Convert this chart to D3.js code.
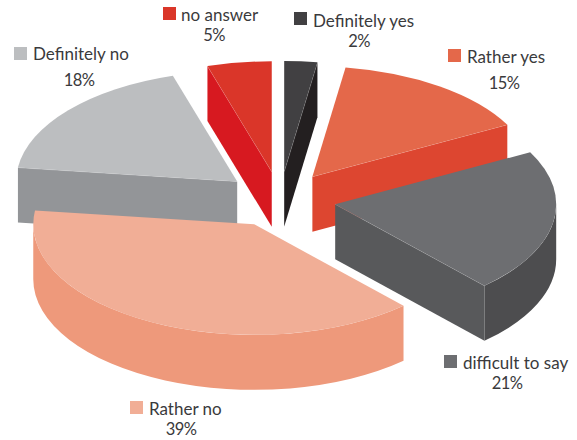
<!DOCTYPE html>
<html>
<head>
<meta charset="utf-8">
<script src="https://cdn.jsdelivr.net/npm/d3@7"></script>
<style>
  html, body { margin: 0; padding: 0; background: #fff; }
  text { font-family: Lato, sans-serif; fill: #3a3a3c; }
</style>
</head>
<body>
<div id="chart"></div>
<script>
// order is clockwise from 12 o'clock
const categories = ["Definitely yes", "Rather yes", "difficult to say", "Rather no", "Definitely no", "no answer"];
const shares = [2.4, 14.8, 21, 38.8, 18.3, 4.7];

const topColors = ["#414042", "#e4684a", "#6d6e71", "#f1ae96", "#bcbec0", "#da3629"];
const sideColors = ["#231f20", "#dd4630", "#58595b", "#ee997b", "#939598", "#d71920"];
const rimColors = ["#231f20", "#dd4630", "#4d4d4f", "#ee997b", "#939598", "#d71920"];

const width = 577;
const height = 440;
const center = { x: 280, y: 199.5 };
const rx = 221;
const ry = 110.5;
const depth = 55;
const explode = 56;

// legend square corner, text x/baseline, percent centre/baseline
const labelSpots = [
  { sx: 294, sy: 12, tx: 313, ty: 27, px: 359, py: 47 },
  { sx: 448, sy: 49, tx: 467, ty: 63, px: 504, py: 89 },
  { sx: 444, sy: 355, tx: 463, ty: 369, px: 507, py: 389 },
  { sx: 130, sy: 401, tx: 149, ty: 415, px: 181, py: 435 },
  { sx: 14, sy: 47, tx: 33, ty: 60, px: 79, py: 86 },
  { sx: 163, sy: 7, tx: 181, ty: 21, px: 214, py: 41 }
];

// painter's order, back slices first
const drawOrder = [5, 0, 1, 4, 2, 3];

const svg = d3.select("#chart")
  .append("svg")
  .attr("width", width)
  .attr("height", height);

const pie = d3.pie().sort(null).value(d => d);
const arcs = pie(shares);
const arc = d3.arc().innerRadius(0).outerRadius(rx);

// a point on the rim of the flattened circle
function rimPoint(angle) {
  return [rx * Math.sin(angle), -ry * Math.cos(angle)];
}

function rimWall(a0, a1) {
  const p0 = rimPoint(a0);
  const p1 = rimPoint(a1);
  return `M${p0[0]},${p0[1]}A${rx},${ry} 0 0 1 ${p1[0]},${p1[1]}` +
    `L${p1[0]},${p1[1] + depth}A${rx},${ry} 0 0 0 ${p0[0]},${p0[1] + depth}Z`;
}

function radialWall(a) {
  const p = rimPoint(a);
  return `M0,0L${p[0]},${p[1]}L${p[0]},${p[1] + depth}L0,${depth}Z`;
}

drawOrder.forEach(i => {
  const d = arcs[i];
  const mid = (d.startAngle + d.endAngle) / 2;
  const g = svg.append("g")
    .attr("transform", `translate(${center.x + explode * Math.sin(mid)},${center.y - explode * 0.5 * Math.cos(mid)})`);

  // rim wall only on the part that faces the viewer
  const a0 = Math.max(d.startAngle, Math.PI / 2);
  const a1 = Math.min(d.endAngle, 3 * Math.PI / 2);
  if (a1 > a0) {
    g.append("path").attr("d", rimWall(a0, a1)).attr("fill", rimColors[i]);
  }

  // cut faces
  [[d.startAngle, Math.sin(d.startAngle) < -1e-6], [d.endAngle, Math.sin(d.endAngle) > 1e-6]]
    .filter(w => w[1])
    .forEach(w => {
      g.append("path").attr("d", radialWall(w[0])).attr("fill", sideColors[i]);
      const p = rimPoint(w[0]);
      g.append("line")
        .attr("x1", 0).attr("y1", 0).attr("x2", p[0]).attr("y2", p[1])
        .attr("stroke", "#fff").attr("stroke-opacity", 0.45).attr("stroke-width", 0.6);
    });

  g.append("path")
    .attr("transform", "scale(1,0.5)")
    .attr("d", arc(d))
    .attr("fill", topColors[i]);
});

const labels = svg.selectAll("g.label")
  .data(categories)
  .enter()
  .append("g")
  .attr("class", "label");

labels.append("rect")
  .attr("x", (d, i) => labelSpots[i].sx)
  .attr("y", (d, i) => labelSpots[i].sy)
  .attr("width", 13)
  .attr("height", 13)
  .attr("fill", (d, i) => topColors[i]);

labels.append("text")
  .attr("x", (d, i) => labelSpots[i].tx)
  .attr("y", (d, i) => labelSpots[i].ty)
  .attr("font-size", 17)
  .text(d => d);

labels.append("text")
  .attr("x", (d, i) => labelSpots[i].px)
  .attr("y", (d, i) => labelSpots[i].py)
  .attr("text-anchor", "middle")
  .attr("font-size", 16.5)
  .attr("letter-spacing", -0.6)
  .text((d, i) => Math.round(shares[i]) + "%");
</script>
</body>
</html>
